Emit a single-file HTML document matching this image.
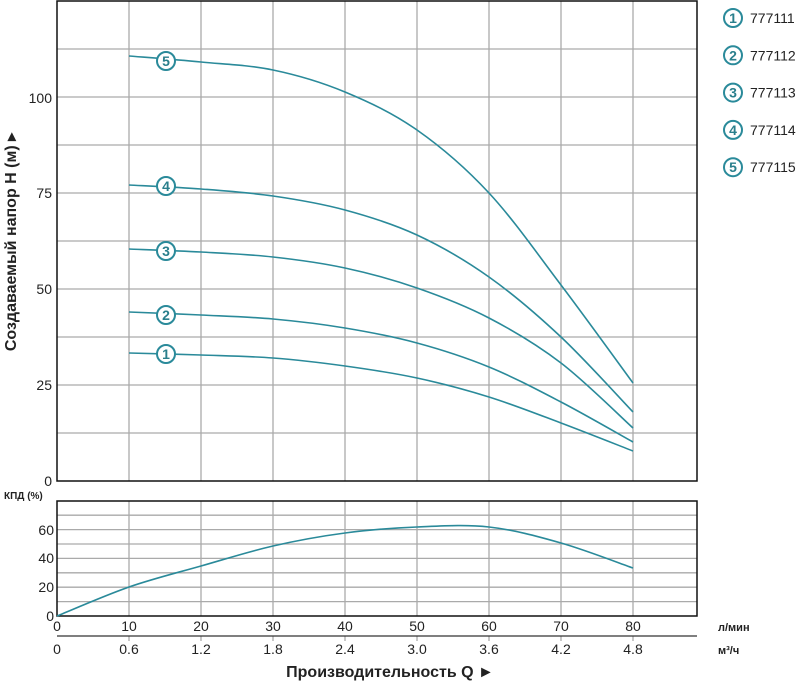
<!DOCTYPE html><html><head><meta charset="utf-8"><style>body{margin:0;background:#fff}svg{display:block;font-family:"Liberation Sans",sans-serif}</style></head><body>
<svg id="s" width="800" height="682" viewBox="0 0 800 682" xmlns="http://www.w3.org/2000/svg">
<g id="grid" stroke="#aaa" stroke-width="1.3"></g>
<rect x="57" y="1" width="640" height="480" fill="none" stroke="#111" stroke-width="1.5"/>
<rect x="57" y="501" width="640" height="115" fill="none" stroke="#111" stroke-width="1.5"/>
<line x1="57" y1="636" x2="697" y2="636" stroke="#333" stroke-width="1.3"/>
<g id="curves" fill="none" stroke="#2a8a9a" stroke-width="1.6"></g>
<g id="txt" font-size="14" fill="#222"></g>
<text x="16" y="242" font-size="16" font-weight="bold" fill="#222" text-anchor="middle" transform="rotate(-90 16 242)">Создаваемый напор H (м) ▸</text>
<text x="4" y="499" font-size="10" font-weight="bold" fill="#222">КПД (%)</text>
<text x="718" y="631" font-size="11" font-weight="bold" fill="#222">л/мин</text>
<text x="718" y="654" font-size="11" font-weight="bold" fill="#222">м³/ч</text>
<text x="390" y="677" font-size="16" font-weight="bold" fill="#222" text-anchor="middle">Производительность Q ►</text>
</svg>
<script>
const ns="http://www.w3.org/2000/svg",g=document.getElementById('grid'),c=document.getElementById('curves'),t=document.getElementById('txt');
function el(p,tag,a,txt){const e=document.createElementNS(ns,tag);for(const k in a)e.setAttribute(k,a[k]);if(txt!=null)e.textContent=txt;p.appendChild(e);return e;}
for(let i=1;i<=8;i++){const x=57+72*i;el(g,'line',{x1:x,y1:1,x2:x,y2:481});el(g,'line',{x1:x,y1:501,x2:x,y2:616});el(g,'line',{x1:x,y1:636,x2:x,y2:641});}
for(let j=1;j<10;j++){const y=481-48*j;el(g,'line',{x1:57,y1:y,x2:697,y2:y});}
for(let j=1;j<8;j++){const y=616-14.4*j;el(g,'line',{x1:57,y1:y,x2:697,y2:y});}
[[0,481],[25,385],[50,289],[75,193],[100,98]].forEach(([v,y])=>el(t,'text',{x:52,y:y+5,'text-anchor':'end'},v));
[[0,616],[20,587],[40,558],[60,530]].forEach(([v,y])=>el(t,'text',{x:54,y:y+5,'text-anchor':'end'},v));
const m3=['0','0.6','1.2','1.8','2.4','3.0','3.6','4.2','4.8'];
for(let i=0;i<=8;i++){const x=57+72*i;el(t,'text',{x:x,y:631,'text-anchor':'middle'},i*10);el(t,'text',{x:x,y:654,'text-anchor':'middle'},m3[i]);}
function path(p){let d='M'+p[0];for(let i=0;i<p.length-1;i++){const p0=p[i-1]||p[i],p1=p[i],p2=p[i+1],p3=p[i+2]||p2;d+=' C'+(p1[0]+(p2[0]-p0[0])/6)+','+(p1[1]+(p2[1]-p0[1])/6)+' '+(p2[0]-(p3[0]-p1[0])/6)+','+(p2[1]-(p3[1]-p1[1])/6)+' '+p2;}return d;}
const X=[129,201,273,345,417,489,561,633];
const L=[[353,355,358,366,378,397,423,451],[312,315,319,328,343,367,402,442],[249,252,257,268,288,318,363,428],[185,189,196,210,235,277,337,412],[56,62,70,92,130,193,285,383]];
L.forEach((ys,k)=>{el(c,'path',{d:path(X.map((x,i)=>[x,ys[i]]))});});
el(c,'path',{d:path([[57,616],[129,587],[201,566],[273,546],[345,533],[417,527],[489,527],[561,543],[633,568]])});
function badge(x,y,n){el(c,'circle',{cx:x,cy:y,r:9,fill:'#fff',stroke:'#2a8a9a','stroke-width':2});el(t,'text',{x:x,y:y+5,'text-anchor':'middle','font-size':14,'font-weight':'bold',fill:'#2a7f8c'},n);}
const my=[354,315,251,186,61];
my.forEach((y,k)=>badge(166,y,k+1));
for(let k=0;k<5;k++){const y=18+37.3*k;badge(733,y,k+1);el(t,'text',{x:750,y:y+5,'font-size':14},'77711'+(k+1));}
</script>
</body></html>
